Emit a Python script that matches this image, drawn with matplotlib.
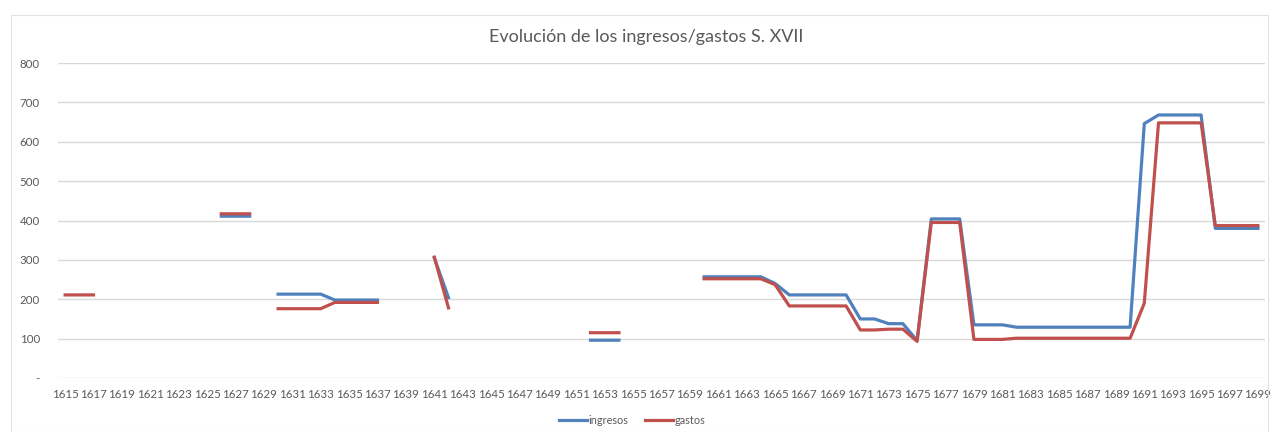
import numpy as np
import matplotlib.pyplot as plt
from matplotlib.ticker import FuncFormatter
from matplotlib.patches import Rectangle

# datos (None = sin dato)
years = list(range(1615, 1700))
N = None
ingresos = [N, N, N, N, N, N, N, N, N, N,                           # 1615-1624
            N, 411, 411, 411, N, 213, 213, 213, 213, 198,           # 1625-1634
            198, 198, 198, N, N, N, 305, 204, N, N,                 # 1635-1644
            N, N, N, N, N, N, N, 96, 96, 96,                        # 1645-1654
            N, N, N, N, N, 257, 257, 257, 257, 257,                 # 1655-1664
            240, 211, 211, 211, 211, 211, 150, 150, 138, 138,       # 1665-1674
            95, 404, 404, 404, 135, 135, 135, 129, 129, 129,        # 1675-1684
            129, 129, 129, 129, 129, 129, 646, 668, 668, 668,       # 1685-1694
            668, 380, 380, 380, 380]                                # 1695-1699
gastos = [211, 211, 211, N, N, N, N, N, N, N,
          N, 417, 417, 417, N, 176, 176, 176, 176, 192,
          192, 192, 192, N, N, N, 307, 178, N, N,
          N, N, N, N, N, N, N, 115, 115, 115,
          N, N, N, N, N, 252, 252, 252, 252, 252,
          237, 183, 183, 183, 183, 183, 122, 122, 124, 124,
          93, 395, 395, 395, 98, 98, 98, 101, 101, 101,
          101, 101, 101, 101, 101, 101, 190, 648, 648, 648,
          648, 387, 387, 387, 387]

ing = np.array(ingresos, dtype=float)
gas = np.array(gastos, dtype=float)
x = np.arange(len(years))

plt.rcParams['font.family'] = ['Lato', 'DejaVu Sans']

W, H = 1272, 432
fig = plt.figure(figsize=(W / 100, H / 100), dpi=100)
fig.patches.append(Rectangle((11 / W, 0), (1268 - 11) / W, 1 - 15 / H,
                             transform=fig.transFigure, fill=False,
                             edgecolor='#e3e3e3', lw=0.8))
ax = fig.add_axes([58 / W, 1 - 378 / H, (1265 - 58) / W, (378 - 63) / H])

ax.plot(x, ing, color='#4f81bd', lw=2.3, label='ingresos', solid_joinstyle='round')
ax.plot(x, gas, color='#c0504d', lw=2.3, label='gastos', solid_joinstyle='round')

ax.set_xlim(-0.5, len(years) - 0.5)
ax.set_ylim(0, 800)
ax.set_yticks(range(0, 801, 100))
ax.yaxis.set_major_formatter(FuncFormatter(lambda v, p: '-' if v == 0 else f'{int(v)}'))
ax.set_xticks(x[::2])
ax.set_xticklabels([str(y) for y in years[::2]])
ax.grid(axis='y', color='#d9d9d9', lw=1)
ax.set_axisbelow(True)
for s in ax.spines.values():
    s.set_visible(False)
ax.tick_params(length=0, labelsize=8.3, colors='#595959')
ax.tick_params(axis='y', pad=13)
ax.tick_params(axis='x', pad=8)

fig.text(646 / W, 1 - 37 / H, 'Evolución de los ingresos/gastos S. XVII',
         ha='center', va='center', fontsize=13, color='#595959')

fig.legend(loc='center', bbox_to_anchor=(632 / W, 1 - 420 / H), ncol=2,
           frameon=False, fontsize=7.8, handlelength=2.6, handletextpad=0.1,
           columnspacing=1.6, labelcolor='#595959')

fig.savefig('out.png', dpi=100, facecolor='white')
